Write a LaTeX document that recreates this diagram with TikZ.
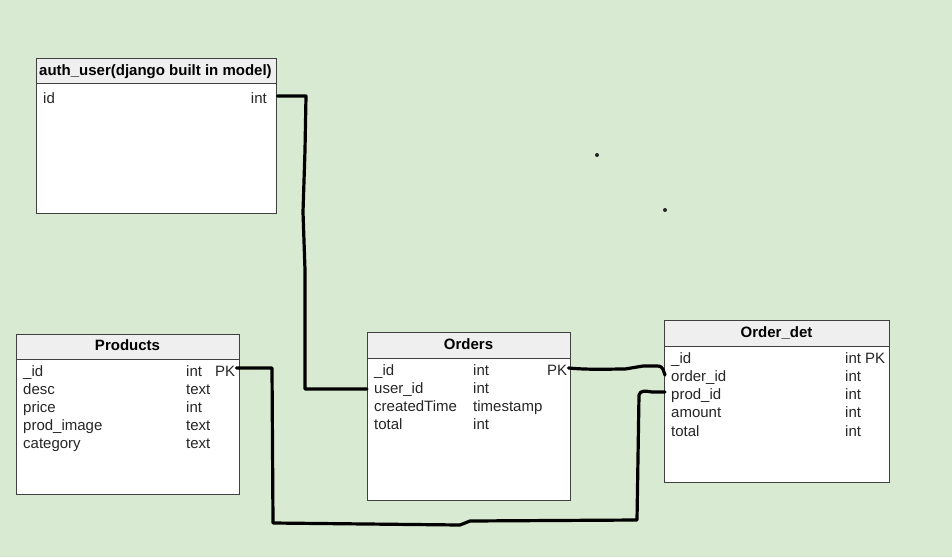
\documentclass[tikz,border=0pt]{standalone}
\usepackage{fontspec}
\setmainfont{Liberation Sans}
\begin{document}
\begin{tikzpicture}[x=1pt,y=-1pt,
  tbl/.style={draw=tblborder, line width=1.4pt, fill=white, anchor=north west, inner sep=0pt},
  head/.style={draw=tblborder, line width=1.4pt, fill=headfill, anchor=north west, inner sep=0pt,
               font=\fontsize{15}{18}\selectfont\bfseries},
  cell/.style={anchor=base west, inner sep=0pt, font=\fontsize{15}{18}\selectfont, text=celltext},
  link/.style={line width=3.2pt, line cap=round, line join=round, black},
  speck/.style={fill=black!85}
]
\definecolor{bg}{HTML}{D9EAD3}
\definecolor{tblborder}{HTML}{404040}
\definecolor{headfill}{HTML}{EFEFEF}
\definecolor{celltext}{HTML}{262626}

% canvas
\fill[bg] (0,0) rectangle (952,557);
\useasboundingbox (0,0) rectangle (952,557);

% ---------- auth_user ----------
\node[tbl, minimum width=240pt, minimum height=155pt] (auth) at (36,58) {};
\node[head, minimum width=240pt, minimum height=25pt] (authh) at (36,58) {};
\node[anchor=base west, inner sep=0pt, font=\fontsize{15}{18}\selectfont\bfseries] (autht) at (39,75) {auth\_user(django built in model)};
\node[cell] (aid) at (43,103) {id};
\node[cell, anchor=base east] (aint) at (267,103) {int};

% ---------- Products ----------
\node[tbl, minimum width=223pt, minimum height=160pt] (prod) at (16,334) {};
\node[head, minimum width=223pt, minimum height=25pt] (prodh) at (16,334) {};
\node[font=\fontsize{15}{18}\selectfont\bfseries, anchor=base, inner sep=0pt] at (127.5,350) {Products};
\node[cell] (pid)   at (23,376) {\_id};
\node[cell] (pdesc) at (23,394) {desc};
\node[cell] (pprice) at (23,412) {price};
\node[cell] (pimg)  at (23,430) {prod\_image};
\node[cell] (pcat)  at (23,448) {category};
\node[cell] (tid)   at (186,376) {int};
\node[cell] (tdesc) at (186,394) {text};
\node[cell] (tprice) at (186,412) {int};
\node[cell] (timg)  at (186,430) {text};
\node[cell] (tcat)  at (186,448) {text};
\node[cell] (ppk)   at (215,376) {PK};

% ---------- Orders ----------
\node[tbl, minimum width=203pt, minimum height=168pt] (ord) at (367,332) {};
\node[head, minimum width=203pt, minimum height=26pt] (ordh) at (367,332) {};
\node[font=\fontsize{15}{18}\selectfont\bfseries, anchor=base, inner sep=0pt] at (468.5,349) {Orders};
\node[cell] (oid)   at (374,375) {\_id};
\node[cell] (ouid)  at (374,393) {user\_id};
\node[cell] (otime) at (374,411) {createdTime};
\node[cell] (otot)  at (374,429) {total};
\node[cell] (toid)  at (473,375) {int};
\node[cell] (touid) at (473,393) {int};
\node[cell] (totime) at (473,411) {timestamp};
\node[cell] (totot) at (473,429) {int};
\node[cell] (opk)   at (547,375) {PK};

% ---------- Order_det ----------
\node[tbl, minimum width=225pt, minimum height=162pt] (det) at (664,320) {};
\node[head, minimum width=225pt, minimum height=26pt] (deth) at (664,320) {};
\node[font=\fontsize{15}{18}\selectfont\bfseries, anchor=base, inner sep=0pt] at (776.5,337) {Order\_det};
\node[cell] (did)   at (671,363) {\_id};
\node[cell] (doid)  at (671,381) {order\_id};
\node[cell] (dpid)  at (671,399) {prod\_id};
\node[cell] (damt)  at (671,417) {amount};
\node[cell] (dtot)  at (671,436) {total};
\node[cell] (tdid)  at (845,363) {int PK};
\node[cell] (tdoid) at (845,381) {int};
\node[cell] (tdpid) at (845,399) {int};
\node[cell] (tdamt) at (845,417) {int};
\node[cell] (tdtot) at (845,436) {int};

% ---------- hand-drawn links ----------
% auth_user.id -> Orders.user_id
\draw[link] (auth.east |- 0,96) -- (306,96) -- (305,150) -- (303,212)
  -- (305,270) -- (305,389) -- (ord.west |- 0,389);
% Products._id -> Order_det.prod_id
\draw[link] ([xshift=1pt]ppk.east |- 0,368) -- (272,368) -- (273,523)
  -- (460,525) -- (470,521) -- (637,520) -- (639,395)
  .. controls (640,390) and (646,391) .. (652,392) -- ([xshift=1pt]det.west |- 0,392);
% Orders._id -> Order_det.order_id
\draw[link] ([xshift=1pt]opk.east |- 0,368) .. controls (590,370) and (610,369) .. (625,369)
  -- (643,366) -- (657,366) .. controls (664,366) and (663,371) .. ([xshift=1pt]det.west |- 0,375);

% stray specks
\fill[speck] (597,155) circle (2pt);
\fill[speck] (665,210) circle (2pt);
\end{tikzpicture}
\end{document}
